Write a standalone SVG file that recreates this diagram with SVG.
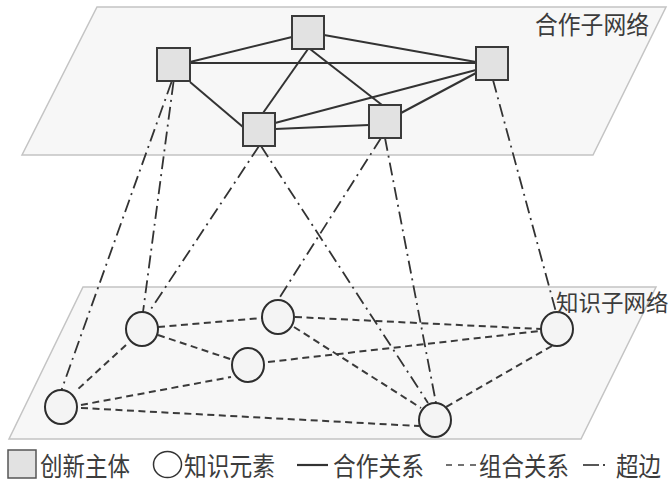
<svg xmlns="http://www.w3.org/2000/svg" width="672" height="483" viewBox="0 0 672 483">
<style>
.plane{fill:#f7f7f7;stroke:#c4c4c4;stroke-width:1.5}
.box{fill:#e2e2e2;stroke:#3a3a3a;stroke-width:2}
.elem{fill:#f4f4f4;stroke:#2e2e2e;stroke-width:2}
.coop{stroke:#333;stroke-width:2;fill:none}
.comb{stroke:#3a3a3a;stroke-width:2;fill:none;stroke-dasharray:7 4.5}
.hyper{stroke:#333;stroke-width:1.8;fill:none;stroke-dasharray:13 5 2 5}
.lbl{font-family:"Noto Sans CJK SC","Noto Sans",sans-serif;fill:#3c3c3c}
.big{font-size:25px}
.leg{font-size:26px}
</style>
<rect width="672" height="483" fill="#ffffff"/>
<g id="plane-top"><polygon class="plane" points="97,7 666,7 593,155 22,155"/></g>
<g id="plane-bottom"><polygon class="plane" points="83,287 656,287 581,439 9,439"/></g>
<g id="connectors">
  <g id="coop-edges">
    <line class="coop" x1="190" y1="62" x2="292" y2="37"/>
    <line class="coop" x1="190" y1="63" x2="476" y2="63"/>
    <line class="coop" x1="324" y1="35" x2="476" y2="62"/>
    <line class="coop" x1="308" y1="49" x2="263" y2="113"/>
    <line class="coop" x1="310" y1="49" x2="382" y2="105"/>
    <line class="coop" x1="190" y1="82" x2="243" y2="127"/>
    <line class="coop" x1="275" y1="123" x2="476" y2="70"/>
    <line class="coop" x1="275" y1="129" x2="369" y2="125"/>
    <line class="coop" x1="401" y1="113" x2="476" y2="73"/>
  </g>
  <g id="comb-edges">
    <line class="comb" x1="158" y1="327" x2="262" y2="318"/>
    <line class="comb" x1="158" y1="335" x2="233" y2="360"/>
    <line class="comb" x1="126" y1="345" x2="77" y2="390"/>
    <line class="comb" x1="81" y1="405" x2="231" y2="377"/>
    <line class="comb" x1="81" y1="408" x2="419" y2="426"/>
    <line class="comb" x1="295" y1="317" x2="541" y2="329"/>
    <line class="comb" x1="268" y1="362" x2="540" y2="331"/>
    <line class="comb" x1="294" y1="327" x2="421" y2="408"/>
    <line class="comb" x1="552" y1="346" x2="446" y2="407"/>
  </g>
  <g id="hyper-edges">
    <line class="hyper" x1="171.5" y1="82" x2="61.5" y2="390"/>
    <line class="hyper" x1="173.5" y1="82" x2="143" y2="312"/>
    <line class="hyper" x1="259" y1="146" x2="149" y2="312"/>
    <line class="hyper" x1="261" y1="146" x2="428" y2="403"/>
    <line class="hyper" x1="381" y1="138" x2="278" y2="300"/>
    <line class="hyper" x1="385" y1="138" x2="436" y2="403"/>
    <line class="hyper" x1="493" y1="80" x2="556" y2="312"/>
  </g>
</g>
<g id="actor-A"><rect class="box" x="157" y="48" width="33" height="33"/></g>
<g id="actor-B"><rect class="box" x="292" y="16" width="32" height="33"/></g>
<g id="actor-C"><rect class="box" x="476" y="47" width="32" height="33"/></g>
<g id="actor-D"><rect class="box" x="243" y="113" width="32" height="33"/></g>
<g id="actor-E"><rect class="box" x="369" y="105" width="32" height="33"/></g>
<g id="elem-1"><ellipse class="elem" cx="142" cy="329" rx="16" ry="17"/></g>
<g id="elem-2"><ellipse class="elem" cx="278" cy="317" rx="16" ry="17"/></g>
<g id="elem-3"><ellipse class="elem" cx="248" cy="365" rx="16" ry="17"/></g>
<g id="elem-4"><ellipse class="elem" cx="61" cy="407" rx="16" ry="17"/></g>
<g id="elem-5"><ellipse class="elem" cx="557" cy="329" rx="16" ry="17"/></g>
<g id="elem-6"><ellipse class="elem" cx="435" cy="420" rx="16" ry="17"/></g>
<g id="label-top"><text class="lbl big" x="535" y="34" textLength="114" lengthAdjust="spacingAndGlyphs">合作子网络</text></g>
<g id="label-bottom"><text class="lbl" x="556" y="311" font-size="22.5">知识子网络</text></g>
<g id="legend">
  <rect x="8" y="450" width="28" height="28" fill="#e2e2e2" stroke="#555" stroke-width="1.5"/>
  <text class="lbl leg" x="40" y="476" textLength="90" lengthAdjust="spacingAndGlyphs">创新主体</text>
  <ellipse cx="167.5" cy="464.5" rx="14" ry="13" fill="#fff" stroke="#333" stroke-width="1.5"/>
  <text class="lbl leg" x="184" y="476" textLength="91" lengthAdjust="spacingAndGlyphs">知识元素</text>
  <line x1="297" y1="465" x2="328" y2="465" stroke="#333" stroke-width="2.2"/>
  <text class="lbl leg" x="333" y="476" textLength="91" lengthAdjust="spacingAndGlyphs">合作关系</text>
  <line x1="446" y1="465" x2="476" y2="465" stroke="#444" stroke-width="1.6" stroke-dasharray="6 6"/>
  <text class="lbl leg" x="479" y="476" textLength="90" lengthAdjust="spacingAndGlyphs">组合关系</text>
  <line x1="583" y1="465" x2="599" y2="465" stroke="#444" stroke-width="1.8"/>
  <line x1="603" y1="465" x2="605" y2="465" stroke="#444" stroke-width="1.8"/>
  <text class="lbl leg" x="616" y="476" textLength="45" lengthAdjust="spacingAndGlyphs">超边</text>
</g>
</svg>
